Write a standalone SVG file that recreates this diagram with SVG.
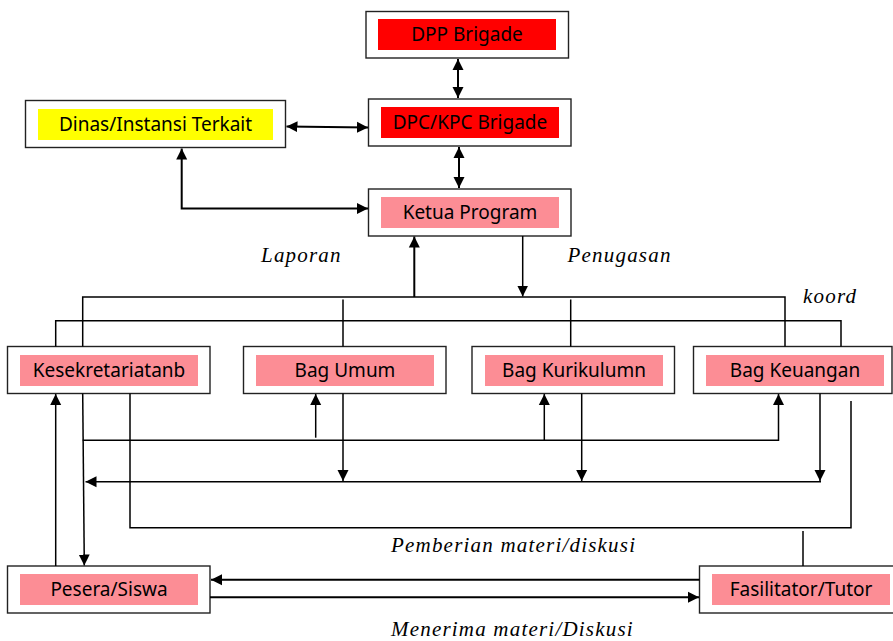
<svg xmlns="http://www.w3.org/2000/svg" width="893" height="641" viewBox="0 0 893 641">
<style>
.box{fill:#fff;stroke:#222;stroke-width:1.4}
.red{fill:#ff0000}
.yel{fill:#ffff00}
.pink{fill:#fc8d95}
.t{font-family:"Noto Sans",sans-serif;font-size:19px;fill:#000;text-anchor:middle}
.lbl{font-family:"Liberation Serif",serif;font-style:italic;font-size:21px;letter-spacing:1.2px;fill:#000}
.c{fill:none;stroke:#000;stroke-width:1.5}
.a{fill:none;stroke:#000;stroke-width:2}
</style>
<defs>
<marker id="ah" viewBox="0 0 10 10" refX="10" refY="5" markerWidth="11" markerHeight="12" markerUnits="userSpaceOnUse" orient="auto-start-reverse">
<path d="M0,0 L10,5 L0,10 z" fill="#000"/>
</marker>
</defs>
<rect width="893" height="641" fill="#fff"/>

<g id="dpp">
<rect class="box" x="366" y="11.5" width="202.5" height="46.5"/>
<rect class="red" x="378" y="19" width="178" height="31"/>
<text class="t" x="467" y="41">DPP Brigade</text>
</g>
<g id="dpc">
<rect class="box" x="368.5" y="99" width="202.5" height="47"/>
<rect class="red" x="381" y="107" width="178" height="31"/>
<text class="t" x="470" y="129">DPC/KPC Brigade</text>
</g>
<g id="dinas">
<rect class="box" x="25.5" y="100.5" width="260" height="47"/>
<rect class="yel" x="38" y="109" width="235" height="31"/>
<text class="t" x="155.5" y="131">Dinas/Instansi Terkait</text>
</g>
<g id="ketua">
<rect class="box" x="368.5" y="189" width="202.5" height="47"/>
<rect class="pink" x="381" y="197" width="178" height="31"/>
<text class="t" x="470" y="219">Ketua Program</text>
</g>
<g id="kesek">
<rect class="box" x="7.5" y="346.5" width="202.5" height="47"/>
<rect class="pink" x="20" y="355" width="178" height="31"/>
<text class="t" x="109" y="377">Kesekretariatanb</text>
</g>
<g id="umum">
<rect class="box" x="243.5" y="346.5" width="202.5" height="47"/>
<rect class="pink" x="256" y="355" width="178" height="31"/>
<text class="t" x="345" y="377">Bag Umum</text>
</g>
<g id="kurikulum">
<rect class="box" x="472" y="346.5" width="202.5" height="47"/>
<rect class="pink" x="485" y="355" width="178" height="31"/>
<text class="t" x="574" y="377">Bag Kurikulumn</text>
</g>
<g id="keuangan">
<rect class="box" x="693.5" y="346.5" width="198.5" height="47"/>
<rect class="pink" x="706" y="355" width="178" height="31"/>
<text class="t" x="795" y="377">Bag Keuangan</text>
</g>
<g id="pesera">
<rect class="box" x="7.5" y="566" width="202.5" height="47"/>
<rect class="pink" x="20" y="574" width="178" height="31"/>
<text class="t" x="109" y="596">Pesera/Siswa</text>
</g>
<g id="fasilitator">
<rect class="box" x="699.5" y="566" width="200" height="47"/>
<rect class="pink" x="712" y="574" width="178" height="31"/>
<text class="t" x="801" y="596">Fasilitator/Tutor</text>
</g>

<g id="connectors">
<line class="a" x1="458" y1="59" x2="458" y2="98" marker-start="url(#ah)" marker-end="url(#ah)"/>
<line class="a" x1="459" y1="147" x2="459" y2="188" marker-start="url(#ah)" marker-end="url(#ah)"/>
<line class="a" x1="286.5" y1="126.5" x2="368" y2="127.5" marker-start="url(#ah)" marker-end="url(#ah)"/>
<path class="a" d="M368,208.5 H181.7 V148.5" marker-start="url(#ah)" marker-end="url(#ah)"/>
<line class="a" x1="414.3" y1="297" x2="414.3" y2="236.5" marker-end="url(#ah)"/>
<line class="c" x1="522.7" y1="236" x2="522.7" y2="296.5" marker-end="url(#ah)"/>
<path class="c" d="M82.7,346.5 V297 H785 V346.5"/>
<path class="c" d="M55.7,346.5 V320.7 H841 V346.5"/>
<line class="c" x1="343" y1="299.5" x2="343" y2="346.5"/>
<line class="c" x1="570.7" y1="299.5" x2="570.7" y2="346.5"/>
<line class="c" x1="55.7" y1="566" x2="55.7" y2="394" marker-end="url(#ah)"/>
<line class="c" x1="82.7" y1="393.5" x2="84.3" y2="565.5" marker-end="url(#ah)"/>
<path class="c" d="M130,393.5 V527.7 H851 V401"/>
<path class="c" d="M82.7,440.3 H778.5 V394" marker-end="url(#ah)"/>
<line class="c" x1="315.7" y1="437.7" x2="315.7" y2="394" marker-end="url(#ah)"/>
<line class="c" x1="544.3" y1="440.3" x2="544.3" y2="394" marker-end="url(#ah)"/>
<line class="c" x1="821" y1="481.7" x2="85.5" y2="481.7" marker-end="url(#ah)"/>
<line class="c" x1="343" y1="393.5" x2="343" y2="481" marker-end="url(#ah)"/>
<line class="c" x1="581.7" y1="393.5" x2="581.7" y2="481" marker-end="url(#ah)"/>
<line class="c" x1="820" y1="393.5" x2="820" y2="481" marker-end="url(#ah)"/>
<line class="c" x1="803" y1="531" x2="803" y2="566"/>
<line class="a" x1="699.5" y1="579.7" x2="211" y2="579.7" marker-end="url(#ah)"/>
<line class="a" x1="210" y1="597.3" x2="699" y2="597.3" marker-end="url(#ah)"/>
</g>

<text class="lbl" x="261" y="262">Laporan</text>
<text class="lbl" x="567.5" y="262">Penugasan</text>
<text class="lbl" x="803" y="303">koord</text>
<text class="lbl" x="391" y="552">Pemberian materi/diskusi</text>
<text class="lbl" x="391" y="636">Menerima materi/Diskusi</text>
</svg>
